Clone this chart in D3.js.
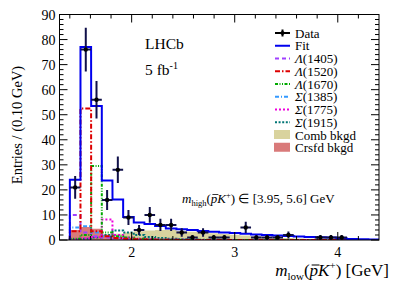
<!DOCTYPE html>
<html><head><meta charset="utf-8">
<script src="https://cdn.jsdelivr.net/npm/d3@7/dist/d3.min.js"></script>
<style>
body{margin:0;background:#fff;}
text{font-family:"Liberation Serif","Times New Roman",serif;fill:#000;}
</style></head>
<body><svg id="c" width="399" height="286"></svg>
<script>
// ---- data ----
const binCenters = [1.452,1.555,1.659,1.762,1.866,1.969,2.072,2.176,2.279,2.383,2.486,2.590,2.693,2.797,2.900,3.003,3.107,3.210,3.314,3.417,3.521,3.624,3.728,3.831,3.934,4.038,4.141,4.245,4.348];
const dataCounts = [21,76,56,16,28,9,4,10,6,6,3,1,3,1,1,0,5,1,1,1,2,0,0,1,1,1,0,0,0];
const fitValues  = [24,77,53.5,23.7,16.2,9.2,7,6.4,5.6,4.6,4.3,4.0,3.6,3.3,3.0,2.8,2.5,2.2,2.0,1.8,1.6,1.4,1.2,1.1,1.0,0.6,0.4,0.3,0.2];
const combBkgd   = [0.5,1,1.5,2,2.5,3,3.5,3.8,4,4,3.6,3.3,3,2.7,2.4,2.1,1.8,1.5,1.2,1.0,0.8,0.6,0.5,0.4,0.3,0.2,0.1,0.1,0.1];
const crsfdBkgd  = [4,5.2,4.5,2.2,1.2,0.6,0.3,0.2,0.1,0.1,0,0,0,0,0,0,0,0,0,0,0,0,0,0,0,0,0,0,0];
const lam1405 = [10,3,1.5,1,0.6,0.4,0.3,0.2,0.1,0.1,0.1,0,0,0,0,0,0,0,0,0,0,0,0,0,0,0,0,0,0];
const lam1520 = [3.5,52.5,3.5,1.5,0.8,0.5,0.3,0.2,0.1,0.1,0,0,0,0,0,0,0,0,0,0,0,0,0,0,0,0,0,0,0];
const lam1670 = [0.5,2,29.5,3,1.5,1,0.5,0.3,0.2,0.1,0.1,0,0,0,0,0,0,0,0,0,0,0,0,0,0,0,0,0,0];
const sig1385 = [5,5.5,3,1.5,1,0.5,0.3,0.2,0.1,0.1,0,0,0,0,0,0,0,0,0,0,0,0,0,0,0,0,0,0,0];
const sig1775 = [0.3,0.6,1.2,8.2,2,1,0.5,0.3,0.2,0.1,0.1,0,0,0,0,0,0,0,0,0,0,0,0,0,0,0,0,0,0];
const sig1915 = [0.3,0.5,1,2,3.8,3,2,1.2,0.8,0.5,0.3,0.2,0.1,0.1,0,0,0,0,0,0,0,0,0,0,0,0,0,0,0];
const xTicks = [2,3,4];
const yTicks = [0,10,20,30,40,50,60,70,80,90];
const legendLabels = ["Data","Fit","Λ(1405)","Λ(1520)","Λ(1670)","Σ(1385)","Σ(1775)","Σ(1915)","Comb bkgd","Crsfd bkgd"];

// ---- layout ----
const svg = d3.select("#c");
const L=59.5, R=379, T=14.5, B=240;
const x = d3.scaleLinear().domain([1.3,4.4]).range([L,R]);
const y = d3.scaleLinear().domain([0,90]).range([B,T]);
const hw = (binCenters[1]-binCenters[0])/2;

svg.append("clipPath").attr("id","clip").append("rect")
  .attr("x",L).attr("y",T).attr("width",R-L).attr("height",B-T);
const g = svg.append("g").attr("clip-path","url(#clip)");

function stepPts(vals){
  const pts=[[binCenters[0]-hw,0]];
  vals.forEach((v,i)=>{pts.push([binCenters[i]-hw,v]);pts.push([binCenters[i]+hw,v]);});
  pts.push([binCenters[binCenters.length-1]+hw,0]);
  return pts;
}
const line = d3.line().x(d=>x(d[0])).y(d=>y(d[1]));
const area = d3.area().x(d=>x(d[0])).y0(y(0)).y1(d=>y(d[1]));

g.append("path").attr("d",area(stepPts(combBkgd))).attr("fill","#d9d39e");
g.append("path").attr("d",area(stepPts(crsfdBkgd))).attr("fill","#d97a7a");

const comps = [
  {v:sig1915,c:"#007575",d:"2,1.6"},
  {v:sig1385,c:"#3399ff",d:"4,2,1,2"},
  {v:sig1775,c:"#ee00dd",d:"2,2"},
  {v:lam1405,c:"#a040ff",d:"4,3"},
  {v:lam1670,c:"#00aa00",d:"3,1.5,1,1.5,1,1.5"},
  {v:lam1520,c:"#dd0000",d:"5,2,1.5,2"}
];
comps.forEach(cp=>{
  g.append("path").attr("d",line(stepPts(cp.v))).attr("fill","none")
   .attr("stroke",cp.c).attr("stroke-width",2).attr("stroke-dasharray",cp.d);
});
g.append("path").attr("d",line(stepPts(fitValues))).attr("fill","none")
  .attr("stroke","#0000ee").attr("stroke-width",2);

// data points
const dg = g.append("g");
dataCounts.forEach((n,i)=>{
  if(n<=0) return;
  const cx=x(binCenters[i]), cy=y(n), e=Math.sqrt(n);
  dg.append("line").attr("x1",x(binCenters[i]-hw)).attr("x2",x(binCenters[i]+hw))
    .attr("y1",cy).attr("y2",cy).attr("stroke","#10104a").attr("stroke-width",2);
  dg.append("line").attr("x1",cx).attr("x2",cx).attr("y1",y(n+e)).attr("y2",y(Math.max(0,n-e)))
    .attr("stroke","#10104a").attr("stroke-width",2);
  dg.append("circle").attr("cx",cx).attr("cy",cy).attr("r",2.2).attr("fill","#000");
});

// frame & ticks
const ax = svg.append("g").attr("stroke","#000").attr("stroke-width",1);
ax.append("rect").attr("x",L).attr("y",T).attr("width",R-L).attr("height",B-T).attr("fill","none");
d3.range(0,91,2).forEach(v=>{
  const len = v%10===0?8:4;
  ax.append("line").attr("x1",L).attr("x2",L+len).attr("y1",y(v)).attr("y2",y(v));
  ax.append("line").attr("x1",R).attr("x2",R-len).attr("y1",y(v)).attr("y2",y(v));
});
d3.range(14,44,2).forEach(k=>{
  const v=k/10; const len = k%10===0?8:4;
  ax.append("line").attr("x1",x(v)).attr("x2",x(v)).attr("y1",B).attr("y2",B-len);
  ax.append("line").attr("x1",x(v)).attr("x2",x(v)).attr("y1",T).attr("y2",T+len);
});
svg.selectAll(".yt").data(yTicks).enter().append("text")
  .attr("x",L-4).attr("y",d=>y(d)+5).attr("text-anchor","end").attr("font-size",14).text(d=>d);
svg.selectAll(".xt").data(xTicks).enter().append("text")
  .attr("x",d=>x(d)).attr("y",257).attr("text-anchor","middle").attr("font-size",14).text(d=>d);

// axis titles
svg.append("text").attr("transform","translate(22,125) rotate(-90)").attr("text-anchor","middle")
  .attr("font-size",14.5).text("Entries / (0.10 GeV)");

function barOver(textSel, idx, fs, lift){
  const node = textSel.node();
  const s = node.getStartPositionOfChar(idx), e = node.getEndPositionOfChar(idx);
  svg.append("line").attr("x1",s.x+fs*0.12).attr("x2",e.x+fs*0.08)
    .attr("y1",s.y-lift).attr("y2",s.y-lift).attr("stroke","#000").attr("stroke-width",fs*0.06);
}

const xl = svg.append("text").attr("x",389).attr("y",276).attr("text-anchor","end").attr("font-size",17);
xl.append("tspan").attr("font-style","italic").text("m");
xl.append("tspan").attr("font-size",11).attr("dy",4).text("low");
xl.append("tspan").attr("dy",-4).text("(");
xl.append("tspan").attr("font-style","italic").text("p");
xl.append("tspan").attr("font-style","italic").text("K");
xl.append("tspan").attr("font-size",11).attr("dy",-7).text("+");
xl.append("tspan").attr("dy",7).text(") [GeV]");
barOver(xl,5,17,11);

svg.append("text").attr("x",145).attr("y",49).attr("font-size",15.5).text("LHCb");
const fb = svg.append("text").attr("x",145).attr("y",75).attr("font-size",15.5);
fb.append("tspan").text("5 fb");
fb.append("tspan").attr("font-size",10).attr("dy",-6).text("-1");

const an = svg.append("text").attr("x",182).attr("y",203).attr("font-size",13);
an.append("tspan").attr("font-style","italic").text("m");
an.append("tspan").attr("font-size",8.5).attr("dy",3).text("high");
an.append("tspan").attr("dy",-3).text("(");
an.append("tspan").attr("font-style","italic").text("p");
an.append("tspan").attr("font-style","italic").text("K");
an.append("tspan").attr("font-size",8.5).attr("dy",-5).text("+");
an.append("tspan").attr("dy",5).text(") ∈  [3.95, 5.6] GeV");
barOver(an,6,13,8.5);

// legend
const lg = svg.append("g");
const ly0 = 33, ldy = 12.75, lx0 = 275, lx1 = 290, ltx = 295;
const legSty = [
  null,
  {c:"#0000ee",d:null},
  {c:"#a040ff",d:"4,3"},
  {c:"#dd0000",d:"5,2,1.5,2"},
  {c:"#00aa00",d:"3,1.5,1,1.5,1,1.5"},
  {c:"#3399ff",d:"4,2,1,2"},
  {c:"#ee00dd",d:"2,2"},
  {c:"#007575",d:"2,1.6"}
];
legendLabels.forEach((lab,i)=>{
  const yy = ly0 + i*ldy;
  if(i===0){
    lg.append("line").attr("x1",lx0).attr("x2",lx1).attr("y1",yy).attr("y2",yy).attr("stroke","#000").attr("stroke-width",2);
    lg.append("line").attr("x1",(lx0+lx1)/2).attr("x2",(lx0+lx1)/2).attr("y1",yy-3.5).attr("y2",yy+3.5).attr("stroke","#000").attr("stroke-width",2);
    lg.append("circle").attr("cx",(lx0+lx1)/2).attr("cy",yy).attr("r",2).attr("fill","#000");
  } else if(i<8){
    const s=legSty[i];
    const ln=lg.append("line").attr("x1",lx0).attr("x2",lx1).attr("y1",yy).attr("y2",yy).attr("stroke",s.c).attr("stroke-width",2);
    if(s.d) ln.attr("stroke-dasharray",s.d);
  } else {
    lg.append("rect").attr("x",lx0-1).attr("y",yy-5).attr("width",16).attr("height",9)
      .attr("fill", i===8?"#d9d39e":"#d97a7a");
  }
  const t = lg.append("text").attr("x",ltx).attr("y",yy+4.5).attr("font-size",13);
  if(i>=2 && i<8){
    t.append("tspan").attr("font-style","italic").text(lab[0]);
    t.append("tspan").text(lab.slice(1));
  } else t.text(lab);
});
</script></body></html>
